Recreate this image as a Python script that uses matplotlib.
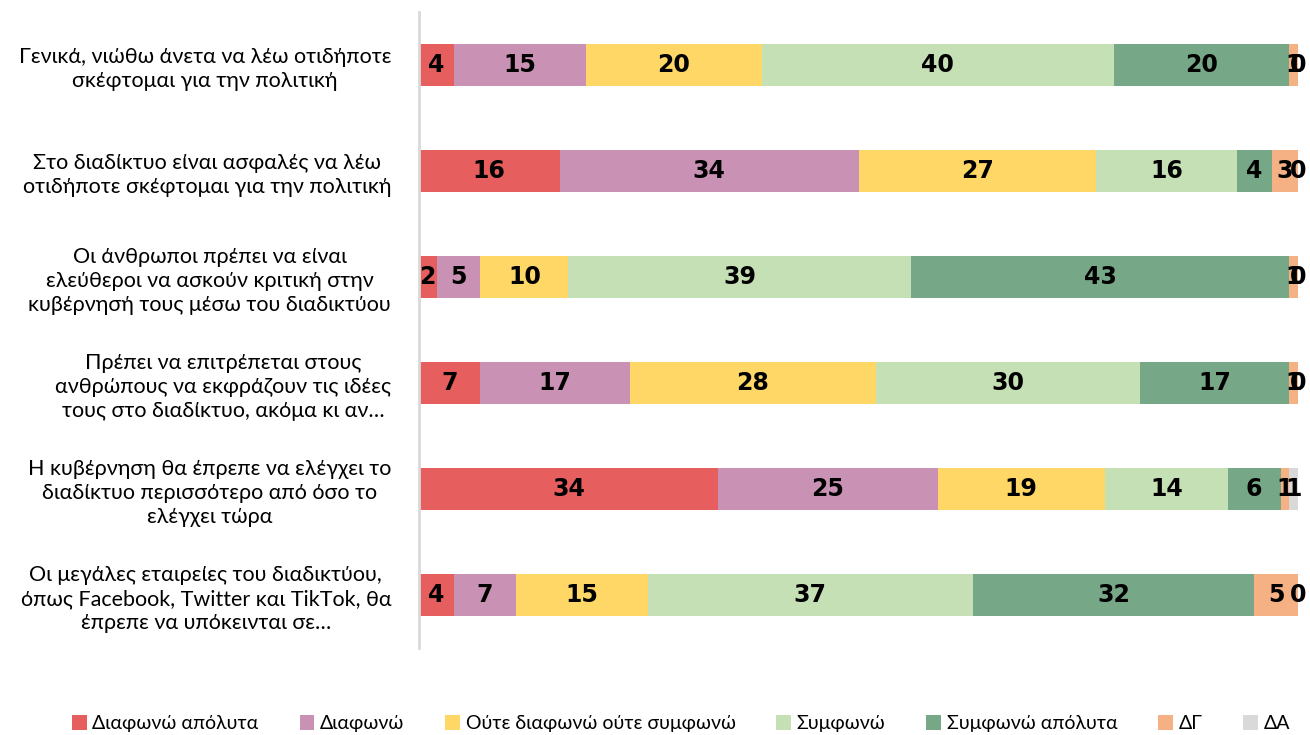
import matplotlib.pyplot as plt
import numpy as np

questions = [
    "Γενικά, νιώθω άνετα να λέω οτιδήποτε\nσκέφτομαι για την πολιτική",
    "Στο διαδίκτυο είναι ασφαλές να λέω\nοτιδήποτε σκέφτομαι για την πολιτική",
    "Οι άνθρωποι πρέπει να είναι\nελεύθεροι να ασκούν κριτική στην\nκυβέρνησή τους μέσω του διαδικτύου",
    "Πρέπει να επιτρέπεται στους\nανθρώπους να εκφράζουν τις ιδέες\nτους στο διαδίκτυο, ακόμα κι αν…",
    "Η κυβέρνηση θα έπρεπε να ελέγχει το\nδιαδίκτυο περισσότερο από όσο το\nελέγχει τώρα",
    "Οι μεγάλες εταιρείες του διαδικτύου,\nόπως Facebook, Twitter και TikTok, θα\nέπρεπε να υπόκεινται σε…",
]
series_names = ["Διαφωνώ απόλυτα", "Διαφωνώ", "Ούτε διαφωνώ ούτε συμφωνώ",
                "Συμφωνώ", "Συμφωνώ απόλυτα", "ΔΓ", "ΔΑ"]
disagree_strong = [4, 16, 2, 7, 34, 4]
disagree = [15, 34, 5, 17, 25, 7]
neutral = [20, 27, 10, 28, 19, 15]
agree = [40, 16, 39, 30, 14, 37]
agree_strong = [20, 4, 43, 17, 6, 32]
dont_know = [1, 3, 1, 1, 1, 5]
no_answer = [0, 0, 0, 0, 1, 0]

colors = ["#E65E5E", "#C992B5", "#FED766", "#C6E0B5", "#76A787", "#F5B084", "#D9D9D9"]

data = [disagree_strong, disagree, neutral, agree, agree_strong, dont_know, no_answer]

fig = plt.figure(figsize=(13.1, 7.35), dpi=100)
ax = fig.add_axes([0.3198, 0.118, 0.6712, 0.866])

y = np.arange(len(questions))
left = np.zeros(len(questions))
handles = []
for name, vals, c in zip(series_names, data, colors):
    vals = np.array(vals, dtype=float)
    h = ax.barh(y, vals, left=left, height=0.4, color=c, label=name)
    handles.append(h)
    for yi, l, v in zip(y, left, vals):
        ax.text(l + v / 2, yi, f"{int(v)}", ha="center", va="center",
                fontsize=17, fontweight="heavy", color="black")
    left += vals

ax.set_xlim(0, 100)
ax.set_ylim(5.5, -0.5)
ax.set_yticks(y)
ax.set_yticklabels(questions, fontsize=15.5, multialignment="center",
                   family="Lato", linespacing=1.25)
ax.tick_params(axis="y", length=0, pad=20)
ax.set_xticks([])
for s in ["top", "right", "bottom"]:
    ax.spines[s].set_visible(False)
ax.spines["left"].set_color("#D9D9D9")
ax.spines["left"].set_linewidth(2)

fig.legend(handles=handles, labels=series_names, loc="lower center",
           bbox_to_anchor=(0.52, -0.02), ncol=7, frameon=False,
           prop={"family": "Lato", "size": 14}, handlelength=0.75,
           handleheight=0.75, handletextpad=0.3, columnspacing=2.1)

fig.savefig("out.png", dpi=100)
